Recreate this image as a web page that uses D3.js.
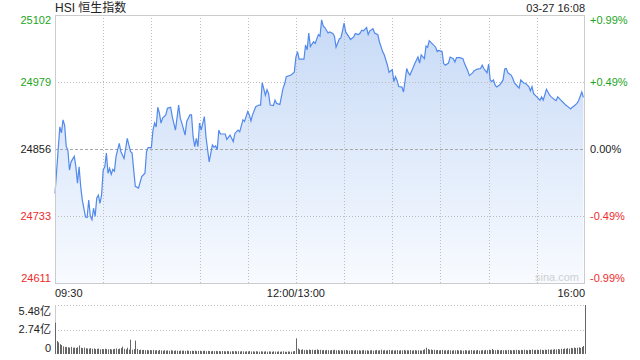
<!DOCTYPE html>
<html>
<head>
<meta charset="utf-8">
<script src="https://cdn.jsdelivr.net/npm/d3@7"></script>
<style>
  body { margin: 0; background: #fff; }
  text { font-family: Arial, "Liberation Sans", "Noto Sans CJK SC", sans-serif; }
</style>
</head>
<body>
<script>
//trading minutes since 09:30 (lunch break skipped) and index level
var mins = [0,3,4,5,6,7,8,9,10,12,13,14,15,16,17,19,20,21,22,23,24,25,26,27,28,29,
  30,31,32,33,34,35,36,37,38,40,41,43,45,47,48,50,52,54,56,57,58,60,61,62,63,64,65,66,67,69,
  70,72,73,75,77,78,79,81,82,84,85,86,87,88,89,90,91,93,94,96,97,98,99,100,101,102,103,106,107,109,
  111,112,114,115,117,118,120,121,122,123,125,127,128,129,131,132,133,134,136,137,138,140,142,143,144,147,149,
  150,151,152,155,156,157,158,159,161,162,164,165,166,167,168,170,171,173,174,175,177,178,179,180,181,183,184,186,187,189,
  190,191,192,194,195,196,198,199,201,202,204,205,207,208,210,211,212,213,214,216,217,219,220,221,223,224,226,227,228,
  230,231,232,233,235,237,238,239,241,242,243,245,246,248,249,250,252,254,255,257,258,260,261,263,265,266,267,268,269,
  270,271,272,273,274,275,277,279,280,281,282,284,285,286,288,289,290,292,293,295,296,297,298,300,302,303,304,306,308,309,
  311,312,313,315,316,318,319,321,322,323,325,326,328,329];
var prices = [24775,24897,24886,24910,24900,24861,24855,24818,24833,24843,24824,24794,24824,24788,24763,24732,24731,24763,24733,24727,24748,24733,24767,24772,24757,24772,
  24818,24824,24849,24812,24821,24810,24819,24816,24843,24867,24852,24839,24876,24852,24849,24788,24785,24806,24812,24852,24859,24859,24891,24904,24897,24933,24922,24904,24913,24919,
  24931,24933,24916,24891,24937,24913,24904,24882,24907,24919,24919,24879,24861,24876,24861,24904,24891,24916,24879,24833,24849,24864,24860,24862,24855,24891,24884,24884,24874,24882,
  24870,24885,24891,24888,24910,24907,24925,24919,24908,24919,24934,24937,24937,24978,24955,24965,24958,24937,24936,24946,24940,24938,24968,24976,24989,24992,24997,
  25025,25035,25021,25021,25047,25038,25069,25044,25053,25050,25066,25063,25093,25082,25079,25069,25071,25068,25063,25043,25058,25060,25073,25087,25071,25062,25057,25062,25068,25066,
  25069,25074,25073,25079,25066,25073,25077,25069,25066,25053,25035,25029,25010,24997,25002,24980,24989,24982,24971,24970,24961,25004,24996,24992,25006,25013,25025,25014,25029,
  25022,25045,25043,25055,25049,25043,25035,25037,25035,25013,25010,25014,25025,25022,25016,25024,25024,25022,25013,25000,24991,24996,25000,25003,25004,25010,25004,25000,24996,
  25012,24983,24980,24983,24974,24970,24974,24983,25003,25004,24996,24992,24986,24978,24971,24968,24983,24977,24977,24971,24963,24971,24958,24952,24946,24952,24946,24966,24955,24952,
  24947,24945,24952,24946,24943,24937,24935,24930,24933,24935,24940,24945,24961,24951];

//volume per minute, in 亿 (last bar is the closing auction)
var vols = [3.50,1.45,1.30,1.10,1.00,0.85,0.80,0.78,0.75,0.72,
  0.80,0.70,0.72,0.68,0.75,0.95,0.70,0.66,0.72,0.64,
  0.62,0.60,0.66,0.58,0.62,0.55,0.58,0.60,0.52,0.56,
  0.54,0.58,0.55,0.52,0.56,0.50,0.54,0.58,0.62,0.55,
  0.60,0.66,0.82,0.58,0.52,0.70,0.50,1.60,0.48,0.55,
  1.50,0.58,0.45,0.48,0.44,0.46,0.42,0.45,0.40,0.44,
  0.42,0.46,0.40,0.43,0.38,0.45,0.40,0.36,0.42,0.38,
  0.40,0.36,0.42,0.38,0.35,0.40,0.37,0.34,0.39,0.36,
  0.38,0.34,0.40,0.35,0.33,0.37,0.34,0.38,0.32,0.35,
  0.36,0.32,0.34,0.38,0.31,0.35,0.33,0.30,0.34,0.32,
  0.35,0.31,0.33,0.30,0.34,0.32,0.29,0.33,0.31,0.28,
  0.32,0.30,0.34,0.29,0.31,0.28,0.32,0.30,0.27,0.31,
  0.29,0.33,0.28,0.30,0.27,0.31,0.29,0.26,0.30,0.28,
  0.27,0.30,0.26,0.29,0.28,0.25,0.30,0.27,0.26,0.29,
  0.25,0.28,0.30,0.26,0.24,0.28,0.27,0.25,0.30,0.33,
  1.75,0.62,0.50,0.46,0.52,0.44,0.48,0.42,0.50,0.45,
  0.48,0.43,0.46,0.52,0.44,0.47,0.42,0.45,0.40,0.46,
  0.43,0.40,0.45,0.42,0.48,0.41,0.44,0.39,0.43,0.40,
  0.42,0.45,0.40,0.38,0.43,0.41,0.39,0.44,0.40,0.42,
  0.38,0.41,0.44,0.39,0.42,0.37,0.40,0.43,0.38,0.41,
  0.45,0.39,0.42,0.48,0.40,0.44,0.38,0.42,0.46,0.40,
  0.43,0.39,0.41,0.44,0.38,0.42,0.40,0.45,0.39,0.42,
  0.40,0.44,0.38,0.41,0.43,0.39,0.42,0.40,0.38,0.45,
  0.52,0.70,0.55,0.48,0.50,0.44,0.47,0.42,0.45,0.40,
  0.43,0.46,0.40,0.42,0.39,0.44,0.41,0.38,0.42,0.40,
  0.44,0.39,0.42,0.40,0.37,0.43,0.40,0.38,0.41,0.44,
  0.39,0.42,0.40,0.45,0.38,0.41,0.43,0.40,0.46,0.42,
  0.48,0.44,0.56,0.45,0.42,0.47,0.43,0.40,0.45,0.42,
  0.44,0.41,0.46,0.43,0.40,0.45,0.42,0.47,0.44,0.41,
  0.46,0.43,0.48,0.44,0.42,0.47,0.45,0.50,0.43,0.46,
  0.48,0.44,0.50,0.46,0.43,0.49,0.45,0.52,0.47,0.50,
  0.48,0.54,0.50,0.56,0.52,0.58,0.55,0.62,0.58,0.65,
  0.60,0.68,0.64,0.72,0.66,0.70,0.75,0.68,0.78,0.90,
  5.48];

var priceTicks = [24611, 24733, 24856, 24979, 25102];
var pctLabels = ['-0.99%', '-0.49%', '0.00%', '+0.49%', '+0.99%'];
var timeTicks = [0, 150, 330];
var timeLabels = ['09:30', '12:00/13:00', '16:00'];
var volTicks = [0, 2.74, 5.48];
var volLabels = ['0', '2.74亿', '5.48亿'];

var width = 640,
    height = 360,
    padL = 55,
    padR = 585,
    plotTop = 15,
    plotBottom = 283,
    volTop = 305,
    volBottom = 354,
    green = '#1ca51c',
    red = '#ee2b2b',
    gridColor = '#bdbdbd';

var svg = d3.select('body').append('svg')
    .attr('width', width)
    .attr('height', height);

var x = d3.scaleLinear().domain([0, 330]).range([padL, padR]);
var y = d3.scaleLinear().domain([24611, 25102]).range([plotBottom, plotTop]);
var yv = d3.scaleLinear().domain([0, 5.48]).range([volBottom, volTop]);

var tickColor = function(i){
  if (i < 2) return red;
  if (i > 2) return green;
  return '#222';
};

//gradient under the line
var grad = svg.append('defs').append('linearGradient')
    .attr('id', 'fillGrad')
    .attr('gradientUnits', 'userSpaceOnUse')
    .attr('x1', 0).attr('y1', plotTop)
    .attr('x2', 0).attr('y2', plotBottom);
grad.append('stop').attr('offset', '0%').attr('stop-color', '#c6d9f6');
grad.append('stop').attr('offset', '100%').attr('stop-color', '#f8fbff');

//area first, grid drawn on top of it
var pts = mins.map(function(m, i){ return [m, prices[i]]; });

var area = d3.area()
    .x(function(d){ return x(d[0]); })
    .y0(plotBottom)
    .y1(function(d){ return y(d[1]); });

var line = d3.line()
    .x(function(d){ return x(d[0]); })
    .y(function(d){ return y(d[1]); });

svg.append('path')
    .datum(pts)
    .attr('d', area)
    .attr('fill', 'url(#fillGrad)');

//vertical grid every 30 minutes
var vgrid = d3.range(30, 330, 30);
svg.selectAll('.vgrid')
    .data(vgrid)
  .enter().append('line')
    .attr('class', 'vgrid')
    .attr('x1', function(d){ return Math.round(x(d)) + 0.5; })
    .attr('x2', function(d){ return Math.round(x(d)) + 0.5; })
    .attr('y1', plotTop)
    .attr('y2', plotBottom)
    .attr('stroke', gridColor)
    .attr('stroke-dasharray', '1,2');

//horizontal grid
svg.selectAll('.hgrid')
    .data(priceTicks.slice(1, 4))
  .enter().append('line')
    .attr('class', 'hgrid')
    .attr('x1', padL)
    .attr('x2', padR)
    .attr('y1', function(d){ return Math.round(y(d)) + 0.5; })
    .attr('y2', function(d){ return Math.round(y(d)) + 0.5; })
    .attr('stroke', function(d, i){ return i === 1 ? '#a8a8a8' : gridColor; })
    .attr('stroke-dasharray', function(d, i){ return i === 1 ? '3,2' : '1,2'; });

svg.append('path')
    .datum(pts)
    .attr('d', line)
    .attr('fill', 'none')
    .attr('stroke', '#5189ec')
    .attr('stroke-width', 1.2);

//frame
svg.append('rect')
    .attr('x', padL + 0.5)
    .attr('y', plotTop + 0.5)
    .attr('width', padR - padL - 1)
    .attr('height', plotBottom - plotTop)
    .attr('fill', 'none')
    .attr('stroke', '#cccccc');

svg.append('text')
    .attr('x', padR - 6)
    .attr('y', plotBottom - 2)
    .attr('text-anchor', 'end')
    .attr('font-size', 11)
    .attr('fill', '#d0d0d0')
    .text('sina.com');

//left price labels
svg.selectAll('.ptick')
    .data(priceTicks)
  .enter().append('text')
    .attr('class', 'ptick')
    .attr('x', padL - 4)
    .attr('y', function(d, i){
      var off = 4;
      if (i === 0) off = -1;
      if (i === 4) off = 9;
      return y(d) + off;
    })
    .attr('text-anchor', 'end')
    .attr('font-size', 11)
    .attr('fill', function(d, i){ return tickColor(i); })
    .text(function(d){ return d; });

//right pct labels
svg.selectAll('.pct')
    .data(priceTicks)
  .enter().append('text')
    .attr('class', 'pct')
    .attr('x', padR + 5)
    .attr('y', function(d, i){
      var off = 4;
      if (i === 0) off = -1;
      if (i === 4) off = 9;
      return y(d) + off;
    })
    .attr('font-size', 11)
    .attr('fill', function(d, i){ return tickColor(i); })
    .text(function(d, i){ return pctLabels[i]; });

//time labels
svg.selectAll('.ttick')
    .data(timeTicks)
  .enter().append('text')
    .attr('class', 'ttick')
    .attr('x', function(d){ return x(d); })
    .attr('y', plotBottom + 14)
    .attr('text-anchor', function(d, i){ return ['start', 'middle', 'end'][i]; })
    .attr('font-size', 11)
    .attr('fill', '#222')
    .text(function(d, i){ return timeLabels[i]; });

//title and timestamp
svg.append('text')
    .attr('x', padL)
    .attr('y', 12)
    .attr('font-size', 12)
    .attr('fill', '#222')
    .text('HSI 恒生指数');

svg.append('text')
    .attr('x', padR)
    .attr('y', 12)
    .attr('text-anchor', 'end')
    .attr('font-size', 11)
    .attr('fill', '#222')
    .text('03-27 16:08');

//VOLUME PANEL
svg.selectAll('.vgridv')
    .data(volTicks.slice(1))
  .enter().append('line')
    .attr('class', 'vgridv')
    .attr('x1', padL)
    .attr('x2', padR)
    .attr('y1', function(d){ return Math.round(yv(d)) + 0.5; })
    .attr('y2', function(d){ return Math.round(yv(d)) + 0.5; })
    .attr('stroke', gridColor)
    .attr('stroke-dasharray', '1,2');

svg.append('line')
    .attr('x1', padL + 0.5).attr('x2', padL + 0.5)
    .attr('y1', volTop).attr('y2', volBottom)
    .attr('stroke', '#cccccc');

svg.selectAll('.vbar')
    .data(vols)
  .enter().append('line')
    .attr('class', 'vbar')
    .attr('x1', function(d, i){ return Math.round(x(i)) + 0.5; })
    .attr('x2', function(d, i){ return Math.round(x(i)) + 0.5; })
    .attr('y1', volBottom)
    .attr('y2', function(d){ return yv(d); })
    .attr('stroke', '#666');

svg.selectAll('.vtick')
    .data(volTicks)
  .enter().append('text')
    .attr('class', 'vtick')
    .attr('x', padL - 4)
    .attr('y', function(d, i){
      var off = 3;
      if (i === 0) off = -2;
      if (i === 2) off = 10;
      return yv(d) + off;
    })
    .attr('text-anchor', 'end')
    .attr('font-size', 11)
    .attr('fill', '#222')
    .text(function(d, i){ return volLabels[i]; });
</script>
</body>
</html>
